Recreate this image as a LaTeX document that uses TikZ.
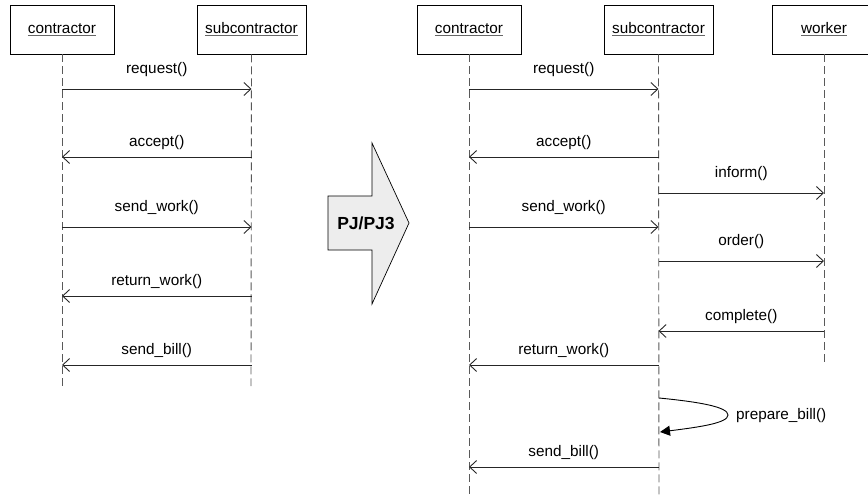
\documentclass[tikz,border=0pt]{standalone}
\usepackage{fontspec}
\setmainfont{Liberation Sans}
\usetikzlibrary{arrows.meta}
\newcommand{\ul}[1]{\leavevmode\setbox0\hbox{#1}\rlap{\color{black!60}\rule[-2.5pt]{\wd0}{0.8pt}}\box0}
\tikzset{
  obj/.style={draw=black, line width=0.9pt, fill=white, minimum height=49pt, inner sep=0pt, font=\fontsize{15.3}{17}\selectfont},
  life/.style={draw=black!65, line width=0.9pt, dash pattern=on 8pt off 4pt},
  msg/.style={draw=black!85, line width=0.9pt, -{Straight Barb[length=7pt,width=13pt,line width=0.9pt]}},
  lblr/.style={midway, yshift=19pt, inner sep=0pt, font=\fontsize{15.3}{17}\selectfont},
  lbll/.style={midway, yshift=14pt, inner sep=0pt, font=\fontsize{15.3}{17}\selectfont},
  self/.style={draw=black, line width=0.9pt, -{Triangle[length=10pt,width=10pt]}},
  bigarrow/.style={draw=black, line width=0.7pt, fill=black!7},
}
\begin{document}
\begin{tikzpicture}[x=1pt, y=-1pt]
\useasboundingbox (0,0) rectangle (868,495);
% left diagram
\node[obj, minimum width=104pt] (lc) at (62,29.5) {\ul{contractor}};
\node[obj, minimum width=109pt] (ls) at (251.5,29.5) {\ul{subcontractor}};
\coordinate (lcend) at (62,386);
\coordinate (lsend) at (251,386);
\draw[life] (lc.south) -- (lcend);
\draw[life] (ls.south) -- (lsend);
\draw[msg] (lc |- 0,89) -- node[lblr]{request()} (ls |- 0,89);
\draw[msg] (ls |- 0,157) -- node[lbll]{accept()} (lc |- 0,157);
\draw[msg] (lc |- 0,227) -- node[lblr]{send\_work()} (ls |- 0,227);
\draw[msg] (ls |- 0,296) -- node[lbll]{return\_work()} (lc |- 0,296);
\draw[msg] (ls |- 0,365) -- node[lbll]{send\_bill()} (lc |- 0,365);
% transformation arrow
\draw[bigarrow] (328,196) -- (372,196) -- (372,143) -- (409,223) -- (372,304) -- (372,250) -- (328,250) -- cycle;
\node[font=\bfseries\fontsize{17.5}{19}\selectfont] (pj) at (366,223) {PJ/PJ3};
% right diagram
\node[obj, minimum width=104pt] (rc) at (469,29.5) {\ul{contractor}};
\node[obj, minimum width=109pt] (rs) at (658.5,29.5) {\ul{subcontractor}};
\node[obj, minimum width=104pt] (rw) at (824,29.5) {\ul{worker}};
\coordinate (rcend) at (469,495);
\coordinate (rsend) at (659,495);
\coordinate (rwend) at (824,364);
\draw[life] (rc.south) -- (rcend);
\draw[life] (rs.south) -- (rsend);
\draw[life] (rw.south) -- (rwend);
\draw[msg] (rc |- 0,89) -- node[lblr]{request()} (rs |- 0,89);
\draw[msg] (rs |- 0,157) -- node[lbll]{accept()} (rc |- 0,157);
\draw[msg] (rs |- 0,193) -- node[lblr]{inform()} (rw |- 0,193);
\draw[msg] (rc |- 0,227) -- node[lblr]{send\_work()} (rs |- 0,227);
\draw[msg] (rs |- 0,261) -- node[lblr]{order()} (rw |- 0,261);
\draw[msg] (rw |- 0,331) -- node[lbll]{complete()} (rs |- 0,331);
\draw[msg] (rs |- 0,365) -- node[lbll]{return\_work()} (rc |- 0,365);
\coordinate (sb1) at (659,398);
\coordinate (sb2) at (728,415);
\coordinate (sb3) at (660,432);
\draw[self] (sb1) .. controls (700,402) and (728,407) .. (sb2) .. controls (728,423) and (700,427) .. (sb3);
\node[anchor=west, inner sep=0pt, font=\fontsize{15.3}{17}\selectfont] (pb) at (736,416) {prepare\_bill()};
\draw[msg] (rs |- 0,467) -- node[lbll]{send\_bill()} (rc |- 0,467);
\end{tikzpicture}
\end{document}
